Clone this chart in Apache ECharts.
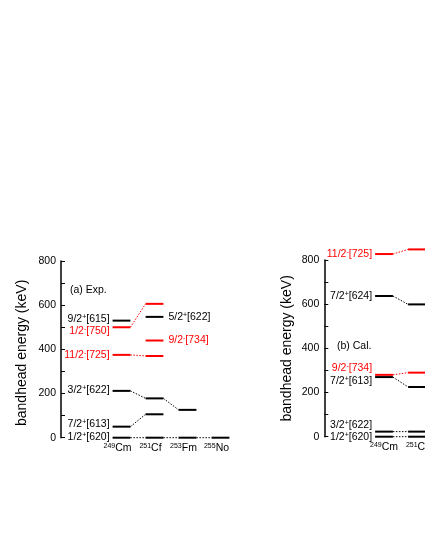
<!DOCTYPE html>
<html>
<head>
<meta charset="utf-8">
<script src="https://cdn.jsdelivr.net/npm/echarts@6/dist/echarts.min.js"></script>
<style>
  html, body { margin: 0; padding: 0; background: #fff; }
  #chart { width: 425px; height: 550px; }
</style>
</head>
<body>
<div id="chart"></div>
<script>
const FONT = '"Liberation Sans", Arial, sans-serif'
const RED = '#ff0000'
const BLACK = '#000000'
const FS = 10.5

// nuclei (x categories)
const expNuclei = ['249Cm', '251Cf', '253Fm', '255No']
const calNuclei = ['249Cm', '251Cf']
const yTicks = [0, 200, 400, 600, 800]

// (a) Exp. bandhead energies in keV, one array per band (null = not seen)
const exp620 = [0, 0, 0, 0]
const exp613 = [50, 106, null, null]
const exp622 = [212, 178, 126, null]
const exp725 = [375, 370, null, null]
const exp750 = [500, 606, null, null]
const exp615 = [530, null, null, null]
const exp622b = [null, 547, null, null]
const exp734 = [null, 440, null, null]

// (b) Cal.
const cal620 = [0, 0]
const cal622 = [23, 23]
const cal613 = [270, 225]
const cal734 = [280, 290]
const cal624 = [637, 599]
const cal725 = [827, 848]

// rich text with superscript parity
function nilsson (spin, parity, asym) {
  return '{m|' + spin + '}{s|' + parity + '}{m|' + asym + '}'
}

function richFor (color) {
  return {
    m: { fontSize: FS, fontFamily: FONT, fill: color },
    s: { fontSize: 7, fontFamily: FONT, fill: color, verticalAlign: 'top' }
  }
}

// one band: level bars + dotted links to next nucleus + optional label
function band (axis, values, text, color, labelCol, side, dy) {
  return {
    type: 'custom',
    xAxisIndex: axis,
    yAxisIndex: axis,
    clip: false,
    silent: true,
    animation: false,
    data: values.map((v, i) => v == null ? null : [i, v]).filter(d => d),
    renderItem (params, api) {
      const i = api.value(0)
      const v = api.value(1)
      const p = api.coord([i, v])
      const half = api.size([1, 0])[0] * 0.27
      const kids = [{
        type: 'line',
        shape: { x1: p[0] - half, y1: p[1], x2: p[0] + half, y2: p[1] },
        style: { stroke: color, lineWidth: 2 }
      }]
      const next = values[i + 1]
      if (next != null) {
        const q = api.coord([i + 1, next])
        kids.push({
          type: 'line',
          shape: { x1: p[0] + half, y1: p[1], x2: q[0] - half, y2: q[1] },
          style: { stroke: color, lineWidth: 1, lineDash: [1.5, 1.5] }
        })
      }
      if (text && i === labelCol) {
        kids.push({
          type: 'text',
          x: side === 'left' ? p[0] - half - 3 : p[0] + half + 5,
          y: p[1] + dy,
          style: {
            text: text,
            align: side === 'left' ? 'right' : 'left',
            verticalAlign: 'middle',
            fill: color,
            fontSize: FS,
            fontFamily: FONT,
            rich: richFor(color)
          }
        })
      }
      return { type: 'group', children: kids }
    }
  }
}

function xAxisFor (idx, names, pad) {
  return {
    type: 'category',
    gridIndex: idx,
    data: names,
    axisLine: { show: false },
    axisTick: { show: false },
    axisLabel: {
      interval: 0,
      margin: 5,
      padding: pad,
      formatter: v => v.replace(/^(\d+)(.*)$/, '{s|$1}{m|$2}'),
      rich: {
        m: { fontSize: FS, fontFamily: FONT, color: BLACK },
        s: { fontSize: 7, fontFamily: FONT, color: BLACK, verticalAlign: 'top' }
      }
    }
  }
}

function yAxisFor (idx, offset, gap, pad) {
  return {
    type: 'value',
    gridIndex: idx,
    min: yTicks[0],
    max: yTicks[yTicks.length - 1],
    interval: 200,
    offset: offset,
    name: 'bandhead energy (keV)',
    nameLocation: 'middle',
    nameGap: gap,
    nameTextStyle: { fontSize: 14, fontFamily: FONT, color: BLACK, padding: pad },
    axisLine: { show: true, lineStyle: { color: BLACK, width: 1.5 } },
    axisTick: { show: true, inside: true, length: 4, lineStyle: { color: BLACK, width: 1 } },
    minorTick: { show: true, splitNumber: 2, length: 4, lineStyle: { color: BLACK, width: 1 } },
    splitLine: { show: false },
    axisLabel: { margin: 5, fontSize: FS, fontFamily: FONT, color: BLACK }
  }
}

const chart = echarts.init(document.getElementById('chart'), null, { renderer: 'canvas' })

chart.setOption({
  animation: false,
  backgroundColor: '#ffffff',
  grid: [
    { left: 105, top: 261, width: 132, height: 176.7, outerBoundsMode: 'none' },
    { left: 367.5, top: 260, width: 66, height: 176.7, outerBoundsMode: 'none' }
  ],
  xAxis: [xAxisFor(0, expNuclei, [0, 8, 0, 0]), xAxisFor(1, calNuclei, [0, 0, 0, 0])],
  yAxis: [yAxisFor(0, 44, 32, [0, 7, 0, 0]), yAxisFor(1, 43.2, 30, 0)],
  graphic: [
    { type: 'text', left: 70, top: 285, style: { text: '(a) Exp.', fontSize: FS, fontFamily: FONT, fill: BLACK } },
    { type: 'text', left: 337, top: 341, style: { text: '(b) Cal.', fontSize: FS, fontFamily: FONT, fill: BLACK } }
  ],
  series: [
    band(0, exp620, nilsson('1/2', '+', '[620]'), BLACK, 0, 'left', -1),
    band(0, exp613, nilsson('7/2', '+', '[613]'), BLACK, 0, 'left', -2.5),
    band(0, exp622, nilsson('3/2', '+', '[622]'), BLACK, 0, 'left', -1),
    band(0, exp725, nilsson('11/2', '-', '[725]'), RED, 0, 'left', 0),
    band(0, exp750, nilsson('1/2', '-', '[750]'), RED, 0, 'left', 3.5),
    band(0, exp615, nilsson('9/2', '+', '[615]'), BLACK, 0, 'left', -1.5),
    band(0, exp622b, nilsson('5/2', '+', '[622]'), BLACK, 1, 'right', 0),
    band(0, exp734, nilsson('9/2', '-', '[734]'), RED, 1, 'right', 0),

    band(1, cal620, nilsson('1/2', '+', '[620]'), BLACK, 0, 'left', 0),
    band(1, cal622, nilsson('3/2', '+', '[622]'), BLACK, 0, 'left', -6.5),
    band(1, cal613, nilsson('7/2', '+', '[613]'), BLACK, 0, 'left', 4),
    band(1, cal734, nilsson('9/2', '-', '[734]'), RED, 0, 'left', -6.5),
    band(1, cal624, nilsson('7/2', '+', '[624]'), BLACK, 0, 'left', 0.5),
    band(1, cal725, nilsson('11/2', '-', '[725]'), RED, 0, 'left', 0.5)
  ]
})
</script>
</body>
</html>
